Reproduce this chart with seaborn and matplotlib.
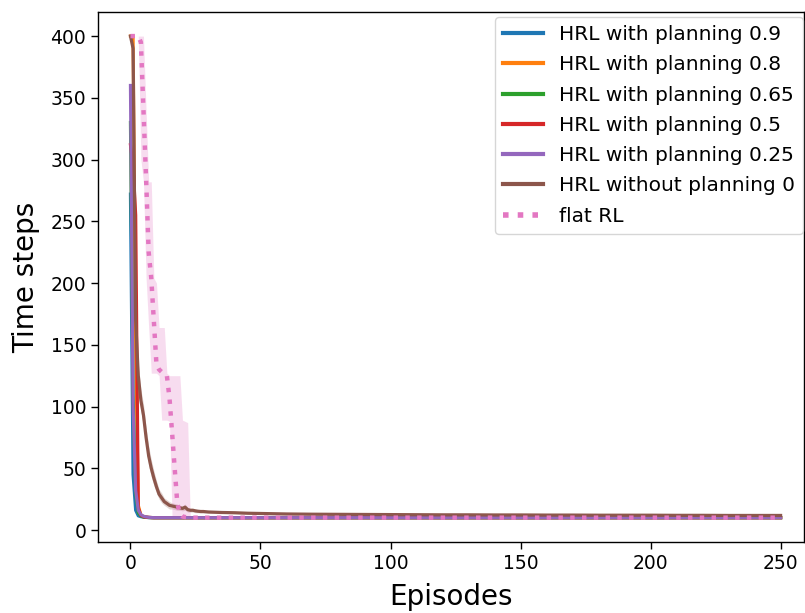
import numpy as np
import pandas as pd
import matplotlib
matplotlib.use("Agg")
import matplotlib.pyplot as plt
import seaborn as sns

# ---------------- data ----------------
ep_early = list(range(0, 31))
ep_tail = [35, 40, 45, 50, 60, 70, 80, 90, 100, 110, 120, 130, 140, 150,
           160, 170, 180, 190, 200, 210, 220, 230, 240, 250]
episodes = ep_early + ep_tail

flat_tail = [10.0] * len(ep_tail)

p09 = [272, 45, 16, 11.5, 10.8, 10.4, 10.2, 10.1, 10.1, 10.0] + [10.0] * 21 + flat_tail
p08 = [400, 400, 150, 20, 12, 10.8, 10.4, 10.2, 10.1, 10.0] + [10.0] * 21 + flat_tail
p065 = [330, 110, 30, 14, 11.5, 10.6, 10.3, 10.1, 10.0, 10.0] + [10.0] * 21 + flat_tail
p05 = [312, 295, 255, 18, 12, 10.8, 10.4, 10.2, 10.1, 10.0] + [10.0] * 21 + flat_tail
p025 = [360, 100, 32, 16, 12.5, 11.2, 10.6, 10.3, 10.1, 10.0] + [10.0] * 21 + flat_tail
p0 = [400, 390, 170, 125, 105, 93, 75, 60, 50, 42,
      35, 29, 26, 23, 21.5, 20, 19.5, 19, 18.5, 18,
      17.5, 18.5, 16.5, 16, 16, 15.5, 15.2, 15, 15, 14.8, 14.6] + \
     [14.2, 14.0, 13.6, 13.4, 13.0, 12.8, 12.7, 12.6, 12.5, 12.4, 12.3, 12.3, 12.2, 12.2,
      12.1, 12.1, 12.0, 12.0, 12.0, 11.9, 11.9, 11.8, 11.8, 11.8]
p0_half = [2, 4, 10, 10, 9, 9, 8, 8, 7, 6,
           5, 4, 4, 3, 3, 3, 2.5, 2.5, 2.5, 2,
           2, 2.5, 2, 1.5, 1.5, 1.5, 1.2, 1.2, 1.2, 1.0, 1.0] + [0.8] * len(ep_tail)
flat = [400, 400, 400, 400, 395, 340, 285, 225, 204, 169,
        134, 130, 128, 126, 125, 107, 79, 50, 22, 13,
        11, 10.5, 10.3, 10.1, 10.0, 10.0, 10.0, 10.0, 10.0, 10.0, 10.0] + flat_tail
flat_lo = [400, 400, 400, 400, 300, 282, 204, 164, 127, 127,
           127, 125, 89, 89, 89, 88, 10, 9.6, 9.6, 9.6,
           9.6, 9.6, 9.6, 9.7, 9.7, 9.7, 9.7, 9.7, 9.7, 9.7, 9.7] + [9.7] * len(ep_tail)
flat_hi = [400, 400, 400, 400, 400, 400, 340, 282, 282, 204,
           200, 164, 164, 164, 127, 125, 125, 125, 125, 125,
           89, 88, 87, 10.4, 10.3, 10.3, 10.3, 10.3, 10.3, 10.3, 10.3] + [10.3] * len(ep_tail)

labels = ["HRL with planning 0.9", "HRL with planning 0.8", "HRL with planning 0.65",
          "HRL with planning 0.5", "HRL with planning 0.25", "HRL without planning 0",
          "flat RL"]
x_ticks = [0, 50, 100, 150, 200, 250]
y_ticks = [0, 50, 100, 150, 200, 250, 300, 350, 400]

# ---------------- figure ----------------
W, H = 805, 613
fig = plt.figure(figsize=(W / 100, H / 100), dpi=100)
left, right, bottom, top = 97.7, 804, 613 - 542, 613 - 12
ax = fig.add_axes([left / W, bottom / H, (right - left) / W, (top - bottom) / H])

colors = sns.color_palette("tab10")
series = [p09, p08, p065, p05, p025]
for i, s in enumerate(series):
    df = pd.DataFrame({"Episodes": episodes, "Time steps": s})
    lo = np.array(s) - 0.4
    hi = np.array(s) + 0.4
    ax.fill_between(episodes, lo, hi, color=colors[i], alpha=0.2, lw=0)
    sns.lineplot(data=df, x="Episodes", y="Time steps", ax=ax, color=colors[i],
                 lw=2.3, label=labels[i])

df0 = pd.DataFrame({"Episodes": episodes, "Time steps": p0})
ax.fill_between(episodes, np.array(p0) - np.array(p0_half), np.array(p0) + np.array(p0_half),
                color=colors[5], alpha=0.25, lw=0)
sns.lineplot(data=df0, x="Episodes", y="Time steps", ax=ax, color=colors[5], lw=2.3,
             label=labels[5])

dff = pd.DataFrame({"Episodes": episodes, "Time steps": flat})
ax.fill_between(episodes, flat_lo, flat_hi, color=colors[6], alpha=0.25, lw=0)
sns.lineplot(data=dff, x="Episodes", y="Time steps", ax=ax, color=colors[6], lw=3.2,
             linestyle=":", label=labels[6])

ax.set_xlim(-12.6, 259.0)
ax.set_ylim(-9.7, 419.5)
ax.set_xticks(x_ticks)
ax.set_yticks(y_ticks)
ax.tick_params(axis="both", labelsize=13.5, length=4.8, width=1.0, direction="out")
for sp in ax.spines.values():
    sp.set_linewidth(1.0)

ax.set_xlabel("Episodes", fontsize=20)
ax.set_ylabel("Time steps", fontsize=20)
ax.xaxis.set_label_coords(0.5, -0.078)
ax.yaxis.set_label_coords(-0.082, 0.5)

leg = ax.legend(loc="upper right", fontsize=14.5, bbox_to_anchor=(803 / W, 1 - 17 / H),
                bbox_transform=fig.transFigure, borderaxespad=0, handlelength=2.0,
                labelspacing=0.56)
for lh in leg.get_lines():
    lh.set_linewidth(3.0 if lh.get_linestyle() != ":" else 4.0)

fig.savefig("out.png", dpi=100)
